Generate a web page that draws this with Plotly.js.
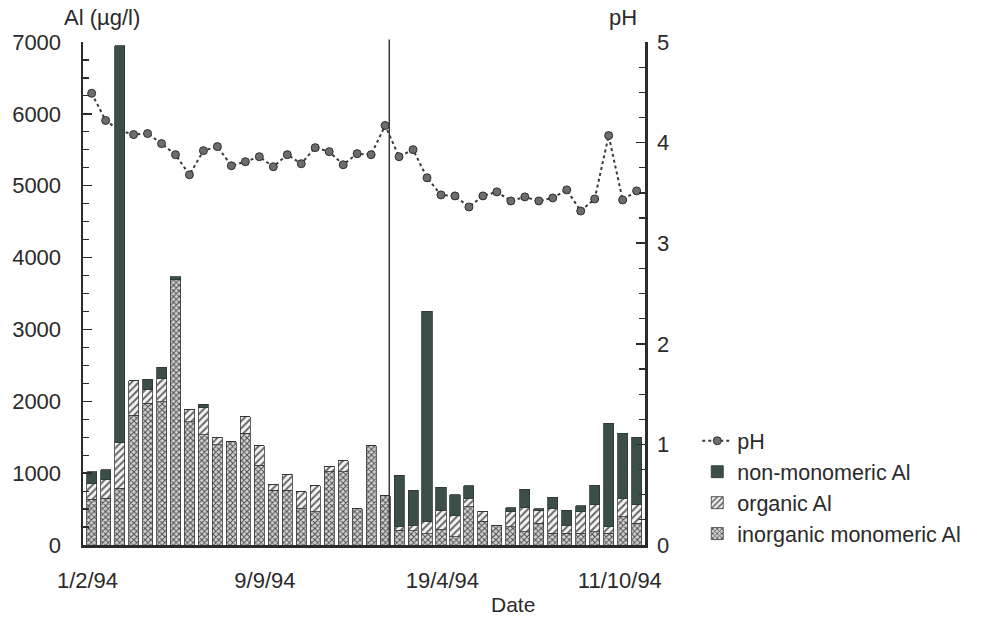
<!DOCTYPE html>
<html>
<head>
<meta charset="utf-8">
<script src="https://cdn.plot.ly/plotly-3.0.1.min.js"></script>
<style>html,body{margin:0;padding:0;background:#fff;}#chart{width:983px;height:619px;}</style>
</head>
<body>
<div id="chart"></div>
<script>
// ---- data ----
const inorganicAl = [636, 650, 789, 1809, 1972, 1994, 3690, 1716, 1531, 1392,
                     1440, 1554, 1113, 765, 765, 510, 464, 1020, 1020, 505,
                     1382, 682, 205, 200, 160, 209, 116, 533, 330, 278,
                     255, 186, 302, 162, 162, 162, 186, 162, 394, 302];
const organicAl   = [213, 255, 635, 478, 195, 326, 0, 172, 385, 107,
                     0, 232, 269, 79, 219, 232, 362, 79, 153, 0,
                     0, 0, 55, 78, 165, 278, 301, 117, 140, 0,
                     209, 338, 180, 348, 116, 302, 371, 93, 256, 255];
const nonMonoAl   = [171, 139, 5526, 0, 143, 153, 40, 0, 46, 0,
                     0, 0, 0, 0, 0, 0, 0, 0, 0, 0,
                     0, 0, 709, 487, 2930, 316, 279, 176, 0, 0,
                     55, 255, 20, 153, 209, 79, 278, 1438, 904, 942];
const pH          = [4.49, 4.22, 4.12, 4.08, 4.09, 3.99, 3.88, 3.68, 3.92, 3.96,
                     3.77, 3.81, 3.86, 3.76, 3.88, 3.79, 3.95, 3.91, 3.78, 3.89,
                     3.88, 4.17, 3.86, 3.93, 3.65, 3.48, 3.47, 3.36, 3.47, 3.51,
                     3.42, 3.46, 3.42, 3.45, 3.53, 3.32, 3.44, 4.07, 3.43, 3.52];
const dateTickLabels = ['1/2/94', '9/9/94', '19/4/94', '11/10/94'];
const dateTickSample = [-0.3, 12.4, 25.1, 37.8];
const markerSample = 21.3;

const sampleIdx = pH.map((_, i) => i);
const FONT = 'Liberation Sans, Arial, sans-serif';
const INK = '#2a2a2a';

const traces = [
  {
    type: 'scatter', mode: 'lines+markers', name: 'pH',
    x: sampleIdx, y: pH, xaxis: 'x', yaxis: 'y',
    line: {color: '#3a3a3a', width: 2, dash: 'dot'},
    marker: {size: 8, color: '#6d6d6d', line: {color: '#2e2e2e', width: 1}},
    legendrank: 1
  },
  {
    type: 'bar', name: 'inorganic monomeric Al',
    x: sampleIdx, y: inorganicAl, xaxis: 'x', yaxis: 'y2',
    marker: {color: '#cfcfcf', line: {color: '#3a3a3a', width: 0.8},
             pattern: {shape: 'x', fgcolor: '#4e4e4e', bgcolor: '#d4d4d4', size: 4, solidity: 0.45}},
    legendrank: 4
  },
  {
    type: 'bar', name: 'organic Al',
    x: sampleIdx, y: organicAl, xaxis: 'x', yaxis: 'y2',
    marker: {color: '#efefef', line: {color: '#3a3a3a', width: 0.8},
             pattern: {shape: '/', fgcolor: '#666666', bgcolor: '#f4f4f4', size: 5, solidity: 0.4}},
    legendrank: 3
  },
  {
    type: 'bar', name: 'non-monomeric Al',
    x: sampleIdx, y: nonMonoAl, xaxis: 'x', yaxis: 'y2',
    marker: {color: '#3b4f47', line: {color: '#2a3631', width: 0.8}},
    legendrank: 2
  }
];

const layout = {
  width: 983, height: 619,
  margin: {l: 83, r: 338, t: 42, b: 74},
  paper_bgcolor: '#ffffff', plot_bgcolor: '#ffffff',
  font: {family: FONT, size: 21, color: INK},
  barmode: 'stack', bargap: 0.28,
  showlegend: true,
  legend: {x: 1.093, xanchor: 'left', y: 0.248, yanchor: 'top', traceorder: 'normal',
           font: {family: FONT, size: 21.5, color: INK}, bgcolor: 'rgba(0,0,0,0)',
           tracegroupgap: 0, itemwidth: 30},
  xaxis: {
    range: [-0.62, 39.6], showgrid: false, zeroline: false,
    showline: true, linecolor: '#2b2b2b', linewidth: 3,
    tickmode: 'array', tickvals: dateTickSample, ticktext: dateTickLabels,
    ticks: '', ticklabelstandoff: 14,
    tickfont: {family: FONT, size: 22, color: INK}
  },
  yaxis: {
    side: 'right', range: [0, 5], showgrid: false, zeroline: false,
    showline: true, linecolor: '#2b2b2b', linewidth: 2.5,
    tickmode: 'linear', tick0: 0, dtick: 1,
    ticks: 'inside', ticklen: 9, tickwidth: 1.5, tickcolor: '#2b2b2b',
    minor: {ticks: 'inside', dtick: 0.25, ticklen: 6, tickwidth: 1.2, tickcolor: '#2b2b2b'},
    ticklabelstandoff: 5,
    tickfont: {family: FONT, size: 22, color: INK}
  },
  yaxis2: {
    overlaying: 'y', side: 'left', range: [0, 7000], showgrid: false, zeroline: false,
    showline: true, linecolor: '#2b2b2b', linewidth: 2.5,
    tickmode: 'linear', tick0: 0, dtick: 1000,
    ticks: 'inside', ticklen: 9, tickwidth: 1.5, tickcolor: '#2b2b2b',
    minor: {ticks: 'inside', dtick: 250, ticklen: 6, tickwidth: 1.2, tickcolor: '#2b2b2b'},
    ticklabelstandoff: 15,
    tickfont: {family: FONT, size: 22, color: INK}
  },
  shapes: [{
    type: 'line', xref: 'x', yref: 'paper',
    x0: markerSample, x1: markerSample, y0: 0, y1: 1.005,
    line: {color: '#3a3a3a', width: 1.5}
  }],
  annotations: [
    {text: 'Al (µg/l)', xref: 'paper', yref: 'paper', x: -0.038, y: 1.048,
     xanchor: 'left', yanchor: 'middle', showarrow: false,
     font: {family: FONT, size: 22, color: INK}},
    {text: 'pH', xref: 'paper', yref: 'paper', x: 0.933, y: 1.048,
     xanchor: 'left', yanchor: 'middle', showarrow: false,
     font: {family: FONT, size: 22, color: INK}},
    {text: 'Date', xref: 'paper', yref: 'paper', x: 0.766, y: -0.119,
     xanchor: 'center', yanchor: 'middle', showarrow: false,
     font: {family: FONT, size: 21, color: INK}}
  ]
};

Plotly.newPlot('chart', traces, layout, {displayModeBar: false, staticPlot: true});
</script>
</body>
</html>
